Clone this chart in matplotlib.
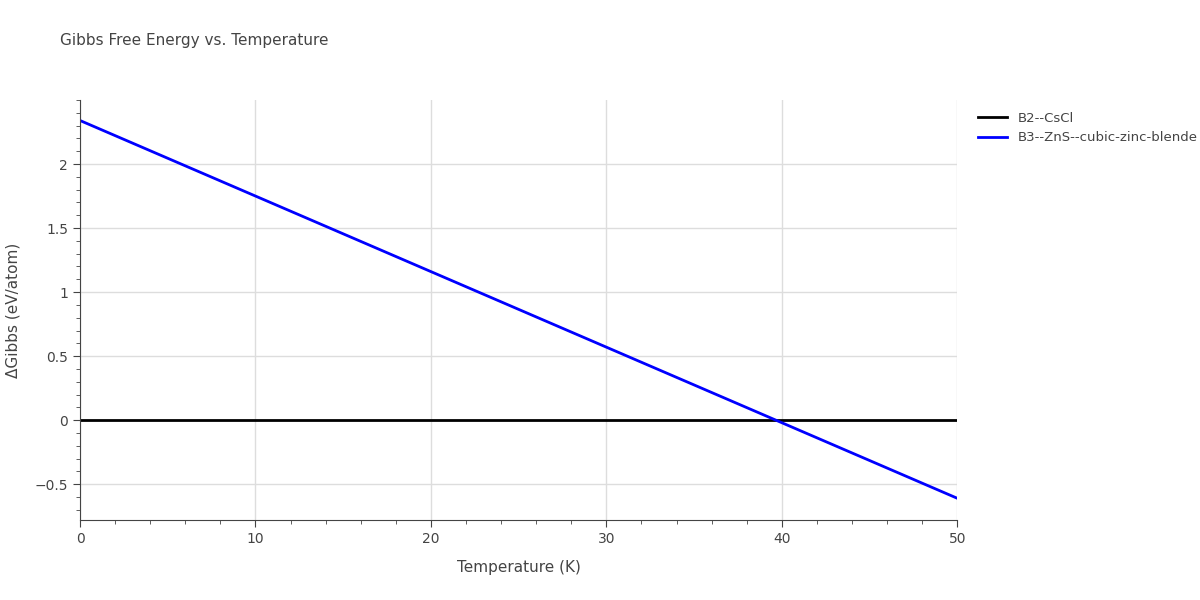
import matplotlib

matplotlib.use("Agg")
import matplotlib.pyplot as plt
from matplotlib.ticker import MultipleLocator

temperature = [0, 50]
b2_cscl = [0.0, 0.0]
b3_zns = [2.34, -0.61]

fig = plt.figure(figsize=(12, 6), dpi=100)
ax = fig.add_axes([0.0667, 0.1333, 0.731, 0.7])

ax.plot(temperature, b2_cscl, color="black", linewidth=2, label="B2--CsCl")
ax.plot(temperature, b3_zns, color="blue", linewidth=2, label="B3--ZnS--cubic-zinc-blende")

ax.set_xlim(0, 50)
ax.set_ylim(-0.78, 2.5)
ax.xaxis.set_major_locator(MultipleLocator(10))
ax.xaxis.set_minor_locator(MultipleLocator(2))
ax.yaxis.set_major_locator(MultipleLocator(0.5))
ax.yaxis.set_minor_locator(MultipleLocator(0.1))
ax.set_yticks([-0.5, 0, 0.5, 1, 1.5, 2])
ax.set_yticklabels(["\u22120.5", "0", "0.5", "1", "1.5", "2"])

ax.grid(True, which="major", color="#dddddd", linewidth=1)
ax.set_axisbelow(True)
for side in ["top", "right"]:
    ax.spines[side].set_visible(False)
for side in ["left", "bottom"]:
    ax.spines[side].set_color("#444444")
ax.tick_params(colors="#444444", labelcolor="#444444", labelsize=10, length=5)
ax.tick_params(which="minor", length=3, colors="#444444")

ax.set_xlabel("Temperature (K)", color="#444444", fontsize=11, labelpad=10)
ax.set_ylabel("\u0394Gibbs (eV/atom)", color="#444444", fontsize=11, labelpad=10)
fig.text(0.05, 0.925, "Gibbs Free Energy vs. Temperature", color="#444444", fontsize=11)

ax.legend(loc="upper left", bbox_to_anchor=(1.01, 1.0), frameon=False,
          fontsize=9.5, handlelength=2.2, labelcolor="#444444")

fig.savefig("out.png", dpi=100)
